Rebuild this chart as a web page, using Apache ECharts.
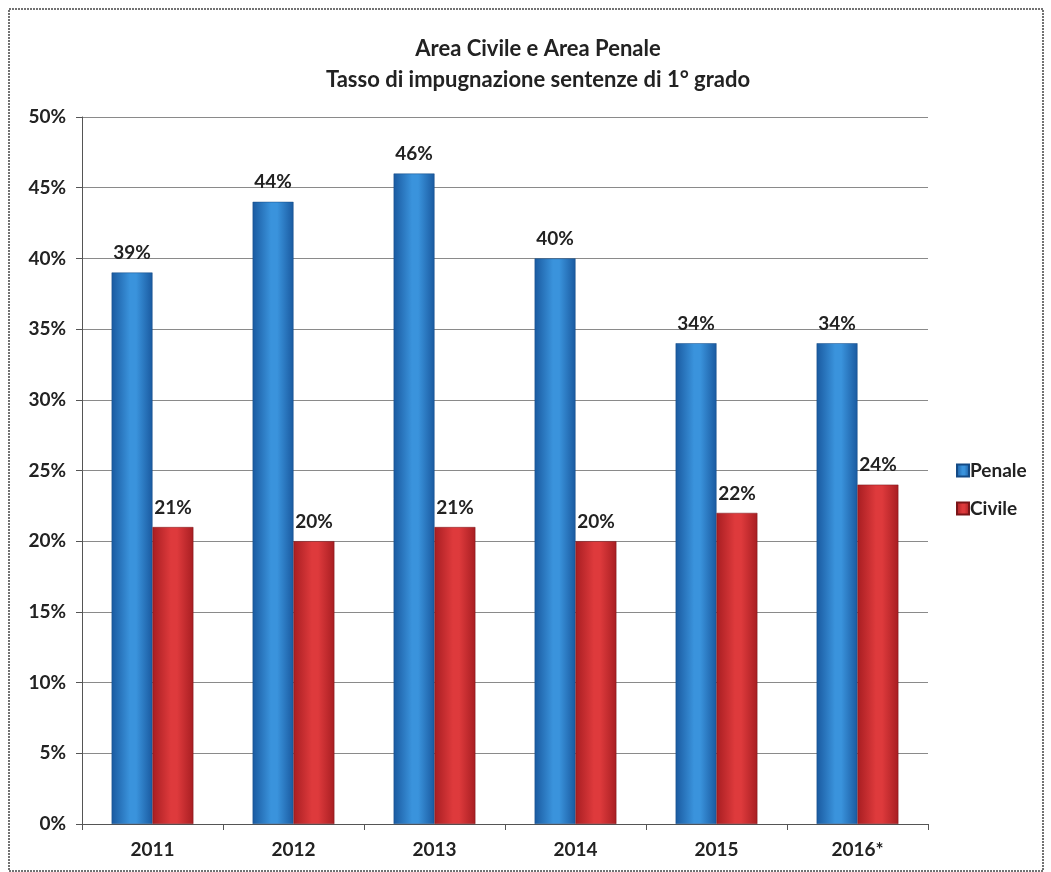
<!DOCTYPE html>
<html>
<head>
<meta charset="utf-8">
<script src="https://cdn.jsdelivr.net/npm/echarts@6/dist/echarts.min.js"></script>
<style>
html,body{margin:0;padding:0;background:#fff;}
#c{width:1051px;height:872px;}
</style>
</head>
<body>
<div id="c"></div>
<script>
const categories = ['2011', '2012', '2013', '2014', '2015', '2016*'];
const penale = [39, 44, 46, 40, 34, 34];
const civile = [21, 20, 21, 20, 22, 24];
const seriesNames = ['Penale', 'Civile'];
const titleLines = ['Area Civile e Area Penale', 'Tasso di impugnazione sentenze di 1° grado'];

const FONT = 'Lato';
const chart = echarts.init(document.getElementById('c'));

function grad(dark, light) {
  return new echarts.graphic.LinearGradient(0, 0, 1, 0, [
    {offset: 0, color: dark},
    {offset: 0.45, color: light},
    {offset: 0.6, color: light},
    {offset: 1, color: dark}
  ]);
}

chart.setOption({
  backgroundColor: '#fff',
  animation: false,
  title: {
    text: titleLines.join('\n'),
    left: 533,
    textAlign: 'center',
    top: 28,
    textStyle: {fontFamily: FONT, fontSize: 22, fontWeight: 'bold', color: '#222', lineHeight: 31}
  },
  graphic: [{
    type: 'rect',
    shape: {x: 9, y: 9, width: 1034, height: 862},
    style: {fill: 'none', stroke: '#444', lineWidth: 1.5, lineDash: [2, 1]},
    silent: true
  }],
  legend: {
    orient: 'vertical',
    left: 951,
    top: 456,
    itemWidth: 12,
    itemHeight: 12,
    itemGap: 19,
    icon: 'rect',
    textStyle: {fontFamily: FONT, fontSize: 19, fontWeight: 'bold', color: '#222', padding: [0, 0, 0, -4]},
    data: seriesNames
  },
  grid: {left: 82, right: 123, top: 117, bottom: 48, containLabel: false},
  xAxis: {
    type: 'category',
    data: categories,
    axisLine: {lineStyle: {color: '#555', width: 1}},
    axisTick: {show: true, length: 6, lineStyle: {color: '#555'}},
    axisLabel: {fontFamily: FONT, fontSize: 19, fontWeight: 'bold', color: '#222', margin: 16}
  },
  yAxis: {
    type: 'value',
    min: 0, max: 50, interval: 5,
    axisLine: {show: true, lineStyle: {color: '#555', width: 1}},
    axisTick: {show: true, length: 6, lineStyle: {color: '#555'}},
    splitLine: {lineStyle: {color: '#8a8a8a', width: 1}},
    axisLabel: {formatter: '{value}%', fontFamily: FONT, fontSize: 19, fontWeight: 'bold', color: '#222', margin: 16}
  },
  series: [
    {
      name: 'Penale', type: 'bar', data: penale,
      barGap: '0%', barCategoryGap: '42%',
      itemStyle: {color: grad('#1a5aa0', '#3a93dc'), borderColor: '#144a85', borderWidth: 0.5},
      label: {show: true, position: 'top', distance: 10, formatter: '{c}%', fontFamily: FONT, fontSize: 19, fontWeight: 'bold', color: '#222'}
    },
    {
      name: 'Civile', type: 'bar', data: civile,
      itemStyle: {color: grad('#a81e22', '#de3a3c'), borderColor: '#7a1518', borderWidth: 0.5},
      label: {show: true, position: 'top', distance: 10, formatter: '{c}%', fontFamily: FONT, fontSize: 19, fontWeight: 'bold', color: '#222'}
    }
  ]
});
</script>
</body>
</html>
